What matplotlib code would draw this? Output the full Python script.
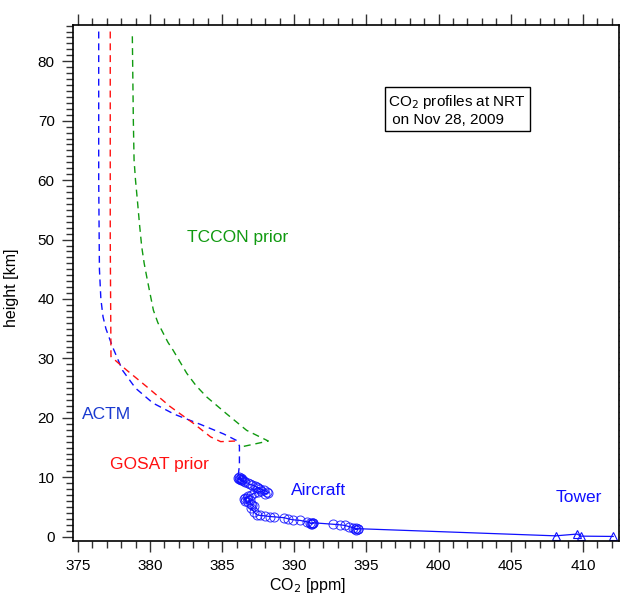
import matplotlib
matplotlib.use("Agg")
import matplotlib.pyplot as plt
from matplotlib.ticker import MultipleLocator

plt.rcParams['font.family'] = ['Liberation Sans', 'DejaVu Sans']

# ---- data ----
actm_co2 = [376.45, 376.45, 376.5, 376.6, 376.75, 376.95, 377.4, 378.1, 379.0, 380.2,
            381.7, 383.5, 385.1, 386.0, 386.2, 386.2, 386.1]
actm_h = [85.0, 60.0, 45.0, 40.0, 37.0, 35.0, 32.0, 28.0, 25.0, 22.5,
          20.6, 18.9, 17.3, 16.2, 15.3, 12.0, 10.0]

gosat_co2 = [377.25, 377.25, 377.3, 378.4, 379.8, 381.4, 383.0, 384.2, 384.9, 385.9]
gosat_h = [85.0, 50.0, 30.3, 28.0, 25.2, 21.9, 19.1, 16.8, 16.0, 16.1]

tccon_co2 = [378.78, 378.85, 378.9, 379.0, 379.13, 379.28, 379.43, 379.6, 379.78, 380.0,
             380.24, 380.55, 380.93, 381.25, 381.6, 382.55, 383.2, 383.94, 385.3,
             386.7, 388.2, 386.3]
tccon_h = [84.2, 70.0, 63.4, 60.0, 56.6, 52.5, 48.8, 46.0, 43.7, 41.0,
           38.1, 36.0, 34.2, 32.7, 31.4, 27.5, 25.4, 23.5, 20.7,
           17.9, 16.1, 15.1]

aircraft_co2 = [386.2, 386.3, 386.1, 386.4, 386.25, 386.35, 386.15, 386.5, 386.3, 386.6,
                386.8, 386.9, 387.1, 387.3, 387.4, 387.6, 387.5, 387.9, 388.1, 388.2,
                388.0, 387.7, 387.5, 387.2, 387.0, 386.8, 386.6, 386.5, 386.7, 386.6,
                386.8, 386.9, 387.0, 387.1, 387.2, 387.0, 387.2, 387.4, 387.6, 388.0,
                388.3, 388.6, 389.3, 389.6, 389.9, 390.4, 390.9, 391.1, 391.2, 391.3,
                391.15, 391.25, 391.3, 392.7, 393.2, 393.5, 393.8, 394.1, 394.3, 394.2,
                394.4, 394.3, 394.45]
aircraft_h = [10.0, 9.9, 9.8, 9.75, 9.7, 9.6, 9.65, 9.4, 9.5, 9.2,
              9.0, 8.8, 8.7, 8.5, 8.3, 8.0, 8.2, 7.8, 7.6, 7.4,
              7.2, 7.7, 7.5, 7.3, 7.0, 6.8, 6.6, 6.3, 6.5, 6.0,
              5.8, 6.1, 5.5, 5.3, 5.1, 4.8, 4.2, 3.7, 3.6, 3.5,
              3.4, 3.35, 3.2, 3.0, 2.85, 2.75, 2.5, 2.35, 2.25, 2.3,
              2.2, 2.15, 2.35, 2.1, 2.0, 1.9, 1.7, 1.5, 1.4, 1.3,
              1.25, 1.2, 1.35]

tower_co2 = [408.1, 409.6, 409.85, 412.1]
tower_h = [0.15, 0.45, 0.1, 0.05]

xticks = [375, 380, 385, 390, 395, 400, 405, 410]
yticks = [0, 10, 20, 30, 40, 50, 60, 70, 80]

blue = '#1010ff'
red = '#ff1010'
green = '#109a10'

fig = plt.figure(figsize=(6.2, 5.98), dpi=100)
ax = fig.add_axes([0.1173, 0.0953, 0.8811, 0.8629])

dash = (0, (5, 3.5))
ax.plot(actm_co2, actm_h, color=blue, lw=1.0, linestyle=dash)
ax.plot(gosat_co2, gosat_h, color=red, lw=1.0, linestyle=dash)
ax.plot(tccon_co2, tccon_h, color=green, lw=1.0, linestyle=dash)

# aircraft + connecting line to tower
ax.plot(aircraft_co2 + tower_co2[:1], aircraft_h + tower_h[:1], color=blue, lw=0.9)
ax.plot(aircraft_co2, aircraft_h, linestyle='none', marker='o', ms=6.5,
        mfc='none', mec=blue, mew=0.7, alpha=0.85)
ax.plot(tower_co2, tower_h, color=blue, lw=0.9, marker='^', ms=6.0,
        mfc='none', mec=blue, mew=0.8)

ax.set_xlim(374.65, 412.5)
ax.set_ylim(-0.72, 86.1)

ax.set_xticks(xticks)
ax.set_yticks(yticks)
ax.xaxis.set_minor_locator(MultipleLocator(1))
ax.yaxis.set_minor_locator(MultipleLocator(1))
ax.tick_params(which='both', direction='out', top=True, right=True,
               labeltop=False, labelright=False, width=1.0, labelsize=11,
               color='#333333')
ax.tick_params(which='major', length=8)
ax.tick_params(which='minor', length=4.8)
ax.tick_params(axis='x', pad=5)
ax.tick_params(axis='y', pad=5)
for s in ax.spines.values():
    s.set_linewidth(1.2)

ax.set_xlabel('CO$_2$ [ppm]', fontsize=11.5)
ax.set_ylabel('height [km]', fontsize=11.5)
ax.xaxis.set_label_coords(0.429, -0.068)
ax.yaxis.set_label_coords(-0.098, 0.49)

ax.text(382.6, 50.4, 'TCCON prior', color=green, fontsize=12.5, va='center', ha='left')
ax.text(375.3, 20.5, 'ACTM', color='#1a3ad0', fontsize=12.5, va='center', ha='left')
ax.text(377.2, 12.1, 'GOSAT prior', color=red, fontsize=12.5, va='center', ha='left')
ax.text(389.8, 7.85, 'Aircraft', color=blue, fontsize=12.5, va='center', ha='left')
ax.text(408.1, 6.6, 'Tower', color=blue, fontsize=12.5, va='center', ha='left')

ax.text(0.578, 0.868, 'CO$_2$ profiles at NRT\n on Nov 28, 2009', transform=ax.transAxes,
        fontsize=11, va='top', ha='left', linespacing=1.2,
        bbox=dict(boxstyle='square,pad=0.25', fc='white', ec='black', lw=1.0))

fig.savefig('out.png', dpi=100)
